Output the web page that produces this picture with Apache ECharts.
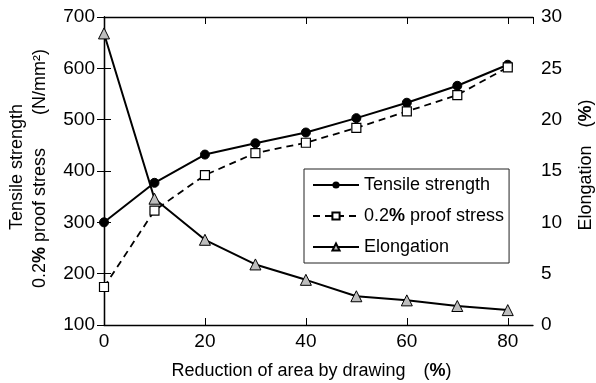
<!DOCTYPE html>
<html><head><meta charset="utf-8">
<script src="https://cdn.jsdelivr.net/npm/echarts@6/dist/echarts.min.js"></script>
<style>html,body{margin:0;padding:0;background:#fff}#c{width:596px;height:383px}</style>
</head><body><div id="c"></div>
<script>
const reduction = [0, 10, 20, 30, 40, 50, 60, 70, 80];
const tensile = [300, 377, 432, 454, 475, 503, 533, 566, 607];
const proof = [174, 323, 392, 435, 455, 484, 516, 548, 602];
const elongation = [28.4, 12.3, 8.3, 5.9, 4.4, 2.8, 2.4, 1.85, 1.45];
const seriesNames = ['Tensile strength', '0.2% proof stress', 'Elongation'];
const xTitle = 'Reduction of area by drawing\u3000(%)';
const yLeftLine1 = 'Tensile strength';
const yLeftLine2 = '0.2% proof stress';
const yLeftUnit = '(N/mm\u00b2)';
const yRightTitle = 'Elongation\u3000(%)';

const FONT = '"Liberation Sans", Arial, sans-serif';
const TXT = 18;
const pct = s => s.replace('%', '{b|%}');
const pair = a => reduction.map((x, i) => [x, a[i]]);

const chart = echarts.init(document.getElementById('c'), null, {renderer: 'canvas'});
const axisCommon = {
  axisLine: {lineStyle: {color: '#000', width: 1.3}},
  axisTick: {inside: true, length: 7, lineStyle: {color: '#000', width: 1}},
  splitLine: {show: false},
  axisLabel: {color: '#000', fontSize: 19, fontFamily: FONT}
};
const richB = {b: {fontWeight: 'bold', fontSize: TXT, fontFamily: FONT, color: '#000'}};
chart.setOption({
  animation: false,
  textStyle: {fontFamily: FONT},
  grid: {left: 104, right: 63, top: 17, bottom: 58, outerBoundsMode: 'none', containLabel: false},
  xAxis: [
    Object.assign({}, axisCommon, {
      type: 'value', min: 0, max: 85, interval: 20, position: 'bottom',
      axisLabel: Object.assign({}, axisCommon.axisLabel, {margin: 7, showMaxLabel: false,
        formatter: v => (v % 20 === 0 ? String(v) : '')}),
      name: pct(xTitle), nameLocation: 'middle', nameGap: 37,
      nameTextStyle: {color: '#000', fontSize: TXT, fontFamily: FONT, padding: [0, 14, 0, 0], rich: richB}
    }),
    Object.assign({}, axisCommon, {
      type: 'value', min: 0, max: 85, interval: 20, position: 'top',
      axisLabel: {show: false}
    })
  ],
  yAxis: [
    Object.assign({}, axisCommon, {
      type: 'value', min: 100, max: 700, interval: 100, position: 'left',
      axisLabel: Object.assign({}, axisCommon.axisLabel, {margin: 9})
    }),
    Object.assign({}, axisCommon, {
      type: 'value', min: 0, max: 30, interval: 5, position: 'right',
      axisLabel: Object.assign({}, axisCommon.axisLabel, {margin: 8})
    })
  ],
  legend: {
    orient: 'vertical', left: 304, top: 169,
    backgroundColor: '#fff', borderColor: '#222', borderWidth: 1,
    padding: [7, 5, 7, 8], itemGap: 13, itemWidth: 46, itemHeight: 9,
    data: seriesNames,
    formatter: n => pct(n),
    textStyle: {color: '#000', fontSize: TXT, fontFamily: FONT, rich: richB}
  },
  series: [
    {name: seriesNames[0], type: 'line', xAxisIndex: 0, yAxisIndex: 0, data: pair(tensile),
      symbol: 'circle', symbolSize: 9, z: 3,
      lineStyle: {color: '#000', width: 2}, itemStyle: {color: '#000', borderColor: '#000'}},
    {name: seriesNames[1], type: 'line', xAxisIndex: 0, yAxisIndex: 0, data: pair(proof),
      symbol: 'rect', symbolSize: 9, z: 3,
      lineStyle: {color: '#000', width: 1.8, type: [7, 5]},
      itemStyle: {color: '#fff', borderColor: '#000', borderWidth: 1.2}},
    {name: seriesNames[2], type: 'line', xAxisIndex: 0, yAxisIndex: 1, data: pair(elongation),
      symbol: 'triangle', symbolSize: 11, z: 3,
      lineStyle: {color: '#000', width: 2},
      itemStyle: {color: '#bdbdbd', borderColor: '#000', borderWidth: 1}}
  ],
  graphic: [
    {type: 'text', x: 17, y: 167, rotation: Math.PI / 2,
      style: {text: yLeftLine1, font: TXT + 'px ' + FONT, fill: '#000', align: 'center', verticalAlign: 'middle'}},
    {type: 'text', x: 40, y: 218, rotation: Math.PI / 2,
      style: {text: pct(yLeftLine2), font: TXT + 'px ' + FONT, fill: '#000', align: 'center', verticalAlign: 'middle', rich: richB}},
    {type: 'text', x: 40, y: 82, rotation: Math.PI / 2,
      style: {text: yLeftUnit, font: TXT + 'px ' + FONT, fill: '#000', align: 'center', verticalAlign: 'middle'}},
    {type: 'text', x: 586, y: 165, rotation: Math.PI / 2,
      style: {text: pct(yRightTitle), font: TXT + 'px ' + FONT, fill: '#000', align: 'center', verticalAlign: 'middle', rich: richB}}
  ]
});
</script></body></html>
